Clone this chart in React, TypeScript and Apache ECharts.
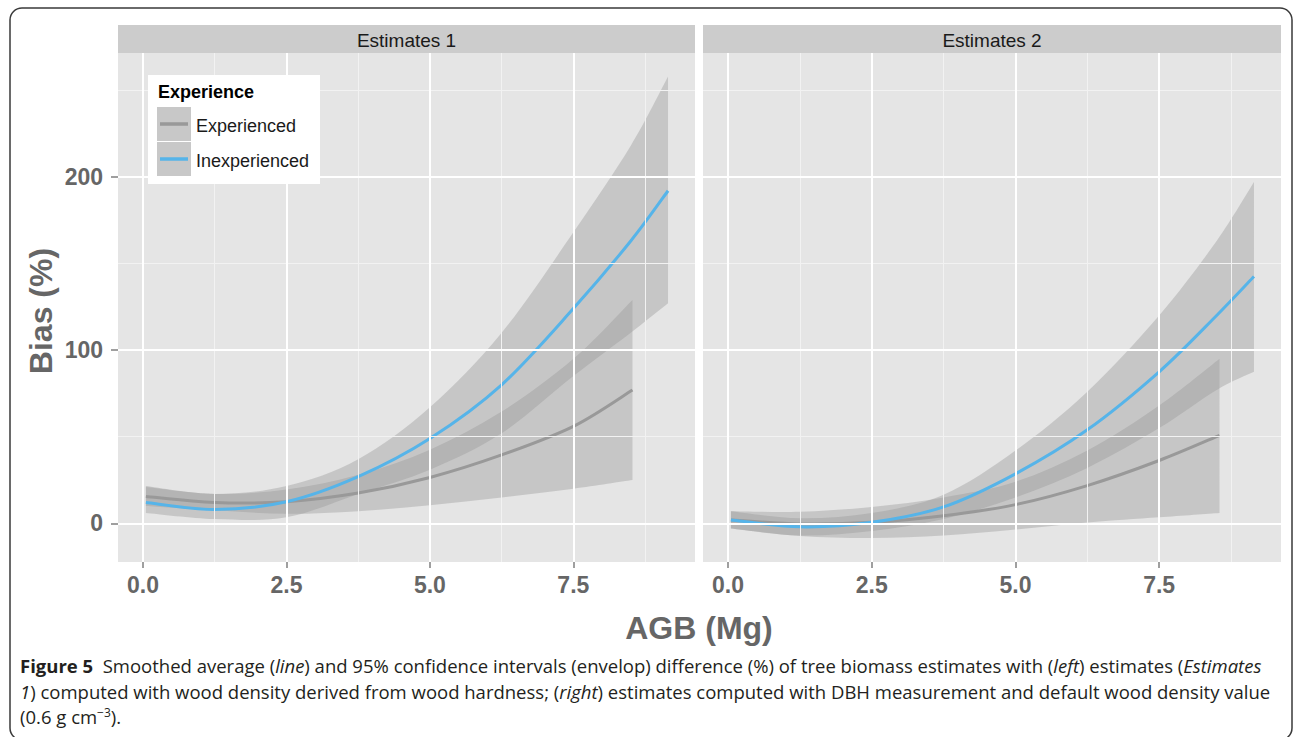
import React, { useEffect, useRef } from "react";
import * as echarts from "echarts";

// ---------- data ----------
const PANELS = ["Estimates 1", "Estimates 2"];
const X_TICKS = [0, 2.5, 5, 7.5];
const X_MINOR = [1.25, 3.75, 6.25, 8.75];
const Y_TICKS = [0, 100, 200];
const Y_MINOR = [50, 150, 250];

// Panel 1 – Experienced
const xExp1 = [0.05, 1.25, 2.5, 3.75, 5.0, 6.25, 7.5, 8.53];
const exp1 = [15.5, 12, 12.5, 17.5, 26.5, 39.5, 56, 77];
const exp1Lo = [10, 7.5, 5.5, 7, 10.5, 15, 20, 25];
const exp1Hi = [21, 17, 19.5, 28, 42.5, 64.5, 95, 129];
// Panel 1 – Inexperienced
const xInx1 = [0.05, 1.25, 2.5, 3.75, 5.0, 6.25, 7.5, 8.5, 9.15];
const inx1 = [12, 8, 12.5, 27, 49, 80, 124, 163, 192];
const inx1Lo = [6, 2.5, 3.5, 17, 31, 52, 85, 110, 127];
const inx1Hi = [21.5, 17, 21.5, 37, 67, 110, 168, 218, 258];

// Panel 2 – Experienced
const xExp2 = [0.05, 1.25, 2.5, 3.75, 5.0, 6.25, 7.5, 8.55];
const exp2 = [2, -0.3, 0.6, 4.4, 10.8, 21.8, 36.3, 50.8];
const exp2Lo = [-3, -7.3, -8.5, -7, -3.5, 0.5, 3.5, 6];
const exp2Hi = [7, 6.7, 9.5, 15, 24, 42, 68, 95];
// Panel 2 – Inexperienced
const xInx2 = [0.05, 1.25, 2.5, 3.75, 5.0, 6.25, 7.5, 8.5, 9.15];
const inx2 = [2, -2, 0.6, 9.5, 28.6, 54, 87.5, 120, 142.5];
const inx2Lo = [-3, -7, -4.4, 2.5, 15, 32, 55, 77, 87.5];
const inx2Hi = [7, 3, 6, 16.5, 42, 76, 120, 163, 197];

const SERIES_NAMES = ["Experienced", "Inexperienced"];
const LINE_COLORS = ["#999999", "#56B4E9"];

// ---------- layout ----------
const X_MIN = -0.436;
const X_MAX = 9.62;
const Y_MIN = -22.3;
const Y_MAX = 271.5;
const GRIDS = [
  { left: 118, top: 53, width: 577, height: 509 },
  { left: 703, top: 53, width: 578, height: 509 },
];
const AXIS_COLOR = "#666666";
const FONT = "Liberation Sans, Arial, sans-serif";
const CAP_FONT = "Open Sans, Noto Sans, sans-serif";

// Catmull-Rom spline through pixel points -> SVG cubic segments (rendering only)
function splineSegs(p: number[][]) {
  let d = "";
  for (let i = 0; i < p.length - 1; i++) {
    const p0 = p[Math.max(0, i - 1)];
    const p1 = p[i];
    const p2 = p[i + 1];
    const p3 = p[Math.min(p.length - 1, i + 2)];
    const c1x = p1[0] + (p2[0] - p0[0]) / 6;
    const c1y = p1[1] + (p2[1] - p0[1]) / 6;
    const c2x = p2[0] - (p3[0] - p1[0]) / 6;
    const c2y = p2[1] - (p3[1] - p1[1]) / 6;
    d += ` C${c1x},${c1y} ${c2x},${c2y} ${p2[0]},${p2[1]}`;
  }
  return d;
}

function ribbon(idx: number, xs: number[], lo: number[], hi: number[]) {
  return {
    type: "custom",
    coordinateSystem: "cartesian2d",
    xAxisIndex: idx,
    yAxisIndex: idx,
    data: xs.map((x, i) => [x, lo[i], hi[i]]),
    encode: { x: 0, y: [1, 2] },
    silent: true,
    z: 3,
    renderItem: (params: any, api: any) => {
      if (params.dataIndex !== 0) return null;
      const up = xs.map((x, i) => api.coord([x, hi[i]]));
      const dn = xs.map((x, i) => api.coord([x, lo[i]])).reverse();
      const d =
        `M${up[0][0]},${up[0][1]}` + splineSegs(up) + ` L${dn[0][0]},${dn[0][1]}` + splineSegs(dn) + " Z";
      return {
        type: "path",
        shape: { pathData: d },
        style: { fill: "rgba(153,153,153,0.4)", stroke: null },
      };
    },
  };
}

function curve(name: string, idx: number, xs: number[], ys: number[], color: string) {
  return {
    type: "custom",
    name,
    coordinateSystem: "cartesian2d",
    xAxisIndex: idx,
    yAxisIndex: idx,
    data: xs.map((x, i) => [x, ys[i]]),
    encode: { x: 0, y: 1 },
    silent: true,
    z: 4,
    renderItem: (params: any, api: any) => {
      if (params.dataIndex !== 0) return null;
      const p = xs.map((x, i) => api.coord([x, ys[i]]));
      const d = `M${p[0][0]},${p[0][1]}` + splineSegs(p);
      return {
        type: "path",
        shape: { pathData: d },
        style: { fill: "none", stroke: color, lineWidth: 3 },
      };
    },
  };
}

function gridLines(idx: number) {
  const major = { color: "#ffffff", width: 2, type: "solid" };
  const minor = { color: "#F2F2F2", width: 1, type: "solid" };
  return {
    type: "line",
    xAxisIndex: idx,
    yAxisIndex: idx,
    data: [[0, 0]],
    symbol: "none",
    lineStyle: { opacity: 0 },
    silent: true,
    z: 1,
    markLine: {
      silent: true,
      symbol: ["none", "none"],
      label: { show: false },
      emphasis: { disabled: true },
      animation: false,
      data: [
        ...X_MINOR.map((v) => ({ xAxis: v, lineStyle: minor })),
        ...Y_MINOR.map((v) => ({ yAxis: v, lineStyle: minor })),
        ...X_TICKS.map((v) => ({ xAxis: v, lineStyle: major })),
        ...Y_TICKS.map((v) => ({ yAxis: v, lineStyle: major })),
      ],
    },
  };
}

function buildOption() {
  const capBase = { fontSize: 18.5, fontFamily: CAP_FONT, fill: "#231F20", fontWeight: "normal", fontStyle: "normal" };
  const rich = {
    b: { ...capBase, fontWeight: "bold" },
    i: { ...capBase, fontStyle: "italic" },
    s: { ...capBase, fontSize: 12, verticalAlign: "top" },
  };
  const capText = (text: string, y: number) => ({
    type: "text",
    x: 20,
    y,
    style: { text, ...capBase, rich, verticalAlign: "middle", align: "left" },
  });

  const graphic: any[] = [
    {
      type: "rect",
      shape: { x: 10, y: 8, width: 1282, height: 732, r: 12 },
      style: { fill: "none", stroke: "#3a3a3a", lineWidth: 1.5 },
    },
    ...GRIDS.map((g) => ({
      type: "rect",
      shape: { x: g.left, y: 25, width: g.width, height: 28 },
      style: { fill: "#CCCCCC" },
    })),
    ...GRIDS.map((g, i) => ({
      type: "text",
      x: g.left + g.width / 2,
      y: 40,
      style: { text: PANELS[i], fontSize: 19, fontFamily: FONT, fill: "#1a1a1a", align: "center", verticalAlign: "middle" },
    })),
    // legend
    { type: "rect", shape: { x: 148, y: 75, width: 172, height: 109 }, style: { fill: "#ffffff" }, z: 10 },
    {
      type: "text", x: 158, y: 92, z: 11,
      style: { text: "Experience", fontSize: 18, fontWeight: "bold", fontFamily: FONT, fill: "#000", verticalAlign: "middle" },
    },
    ...SERIES_NAMES.map((n, i) => ({
      type: "rect", z: 11,
      shape: { x: 157, y: 107 + i * 35, width: 34, height: 34 },
      style: { fill: "#C8C8C8" },
    })),
    ...SERIES_NAMES.map((n, i) => ({
      type: "line", z: 12,
      shape: { x1: 160, y1: 124 + i * 35, x2: 188, y2: 124 + i * 35 },
      style: { stroke: LINE_COLORS[i], lineWidth: 3.5 },
    })),
    ...SERIES_NAMES.map((n, i) => ({
      type: "text", x: 196, y: 125.5 + i * 35, z: 12,
      style: { text: n, fontSize: 18, fontFamily: FONT, fill: "#1a1a1a", verticalAlign: "middle" },
    })),
    // axis titles
    {
      type: "text", x: 41, y: 311, rotation: Math.PI / 2,
      style: { text: "Bias (%)", fontSize: 32, fontWeight: "bold", fontFamily: FONT, fill: AXIS_COLOR, align: "center", verticalAlign: "middle" },
    },
    {
      type: "text", x: 699, y: 628,
      style: { text: "AGB (Mg)", fontSize: 32, fontWeight: "bold", fontFamily: FONT, fill: AXIS_COLOR, align: "center", verticalAlign: "middle" },
    },
    // caption
    capText(
      "{b|Figure 5}  Smoothed average ({i|line}) and 95% confidence intervals (envelop) difference (%) of tree biomass estimates with ({i|left}) estimates ({i|Estimates}",
      665
    ),
    capText(
      "{i|1}) computed with wood density derived from wood hardness; ({i|right}) estimates computed with DBH measurement and default wood density value",
      691
    ),
    capText("(0.6 g cm{s|−3}).", 716),
  ];

  const xAxis = GRIDS.map((g, i) => ({
    type: "value",
    gridIndex: i,
    min: X_MIN,
    max: X_MAX,
    axisLine: { show: false, onZero: false },
    axisTick: { show: true, customValues: X_TICKS, length: 6, lineStyle: { color: "#7f7f7f", width: 1.5 } },
    axisLabel: {
      customValues: X_TICKS,
      formatter: (v: number) => v.toFixed(1),
      fontSize: 23,
      fontWeight: "bold",
      fontFamily: FONT,
      color: AXIS_COLOR,
      margin: 11,
    },
    splitLine: { show: false },
  }));

  const yAxis = GRIDS.map((g, i) => ({
    type: "value",
    gridIndex: i,
    min: Y_MIN,
    max: Y_MAX,
    axisLine: { show: false, onZero: false },
    axisTick: { show: i === 0, customValues: Y_TICKS, length: 7, lineStyle: { color: "#7f7f7f", width: 1.5 } },
    axisLabel: {
      show: i === 0,
      customValues: Y_TICKS,
      fontSize: 23,
      fontWeight: "bold",
      fontFamily: FONT,
      color: AXIS_COLOR,
      margin: 15,
    },
    splitLine: { show: false },
  }));

  const series: any[] = [
    gridLines(0),
    gridLines(1),
    ribbon(0, xExp1, exp1Lo, exp1Hi),
    curve(SERIES_NAMES[0], 0, xExp1, exp1, LINE_COLORS[0]),
    ribbon(0, xInx1, inx1Lo, inx1Hi),
    curve(SERIES_NAMES[1], 0, xInx1, inx1, LINE_COLORS[1]),
    ribbon(1, xExp2, exp2Lo, exp2Hi),
    curve(SERIES_NAMES[0], 1, xExp2, exp2, LINE_COLORS[0]),
    ribbon(1, xInx2, inx2Lo, inx2Hi),
    curve(SERIES_NAMES[1], 1, xInx2, inx2, LINE_COLORS[1]),
  ];

  return {
    animation: false,
    backgroundColor: "#ffffff",
    grid: GRIDS.map((g) => ({ ...g, show: true, backgroundColor: "#E5E5E5", borderWidth: 0, containLabel: false })),
    xAxis,
    yAxis,
    series,
    graphic,
  };
}

export default function App() {
  const ref = useRef<HTMLDivElement>(null);
  useEffect(() => {
    if (!ref.current) return;
    const chart = echarts.init(ref.current, undefined, { renderer: "svg" });
    chart.setOption(buildOption() as any);
    return () => chart.dispose();
  }, []);
  return (
    <div
      ref={ref}
      style={{ position: "fixed", left: 0, top: 0, width: 1293, height: 737, background: "#fff" }}
    />
  );
}
